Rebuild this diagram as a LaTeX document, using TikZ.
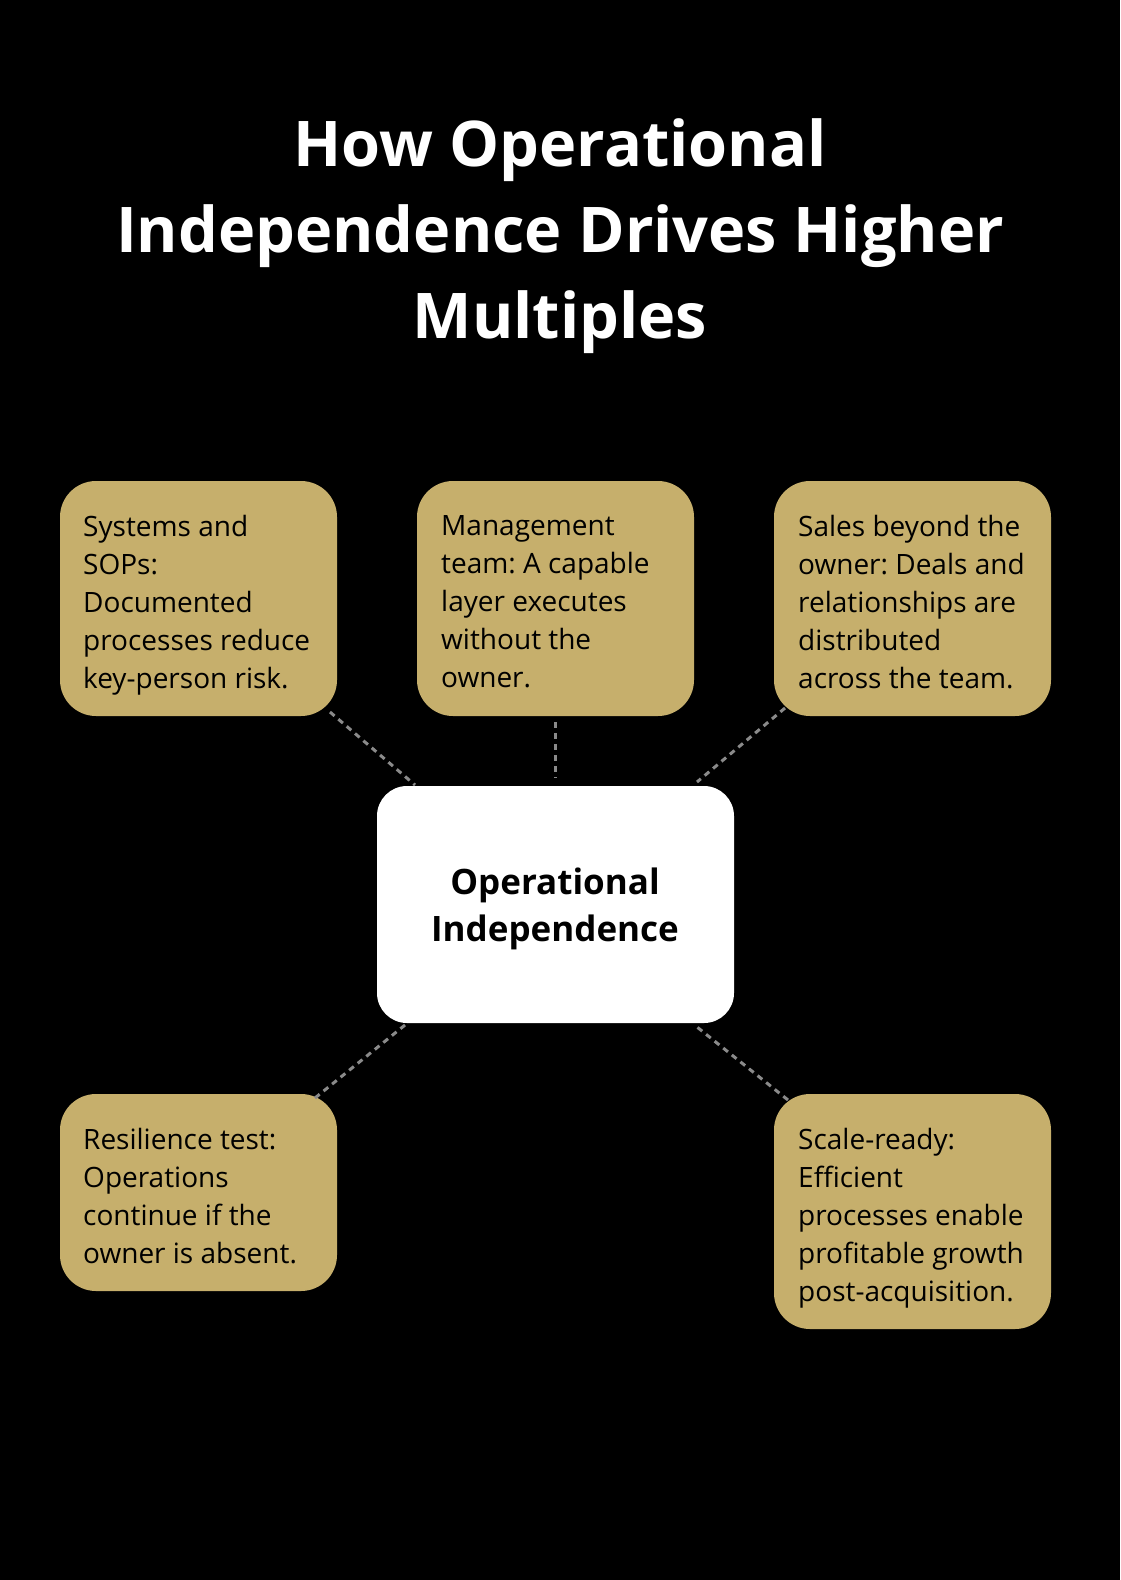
\documentclass[tikz,border=0pt]{standalone}
\usepackage{fontspec}
\setmainfont{Open Sans}
\begin{document}
\frenchspacing
\begin{tikzpicture}[x=1pt,y=-1pt,
 box/.style={fill=gold,rounded corners=36pt},
 txt/.style={anchor=north west,align=left,inner sep=0pt,font=\fontsize{28}{38}\selectfont,text=black},
 link/.style={draw=dgray,line width=3pt,dash pattern=on 6pt off 5pt}]
\definecolor{gold}{HTML}{C6AF6C}
\definecolor{dgray}{HTML}{8A8A8A}
\fill[black] (0,0) rectangle (1120,1580);
\useasboundingbox (0,0) rectangle (1120,1580);
\node[align=center,text=white,font=\bfseries\fontsize{63}{86}\selectfont] (title) at (560,236) {How Operational\\Independence Drives Higher\\Multiples};
\fill[box] (60,481) rectangle (337,716);
\fill[box] (417,481) rectangle (694,716);
\fill[box] (774,481) rectangle (1051,716);
\fill[box] (60,1094) rectangle (337,1291);
\fill[box] (774,1094) rectangle (1051,1329);
\fill[white,rounded corners=30pt] (377,786) rectangle (734,1023);
\node[txt] (t1) at (83,515) {Systems and\\SOPs:\\Documented\\processes reduce\\key-person risk.};
\node[txt] (t2) at (441,515) {Management\\team: A capable\\layer executes\\without the\\owner.};
\node[txt] (t3) at (798,515) {Sales beyond the\\owner: Deals and\\relationships are\\distributed\\across the team.};
\node[txt] (t4) at (83,1128) {Resilience test:\\Operations\\continue if the\\owner is absent.};
\node[txt] (t5) at (798,1128) {Scale-ready:\\Efficient\\processes enable\\profitable growth\\post-acquisition.};
\node[align=center,font=\bfseries\fontsize{35}{47}\selectfont] (c) at (555,909) {Operational\\Independence};
\coordinate (a1) at (330,712); \coordinate (b1) at (415,785);
\coordinate (a2) at (555,722); \coordinate (b2) at (555,778);
\coordinate (a3) at (785,708); \coordinate (b3) at (697,782);
\coordinate (a4) at (315,1098); \coordinate (b4) at (405,1025);
\coordinate (a5) at (788,1100); \coordinate (b5) at (697,1027);
\foreach \i in {1,...,5} \draw[link] (a\i) -- (b\i);
\end{tikzpicture}
\end{document}
